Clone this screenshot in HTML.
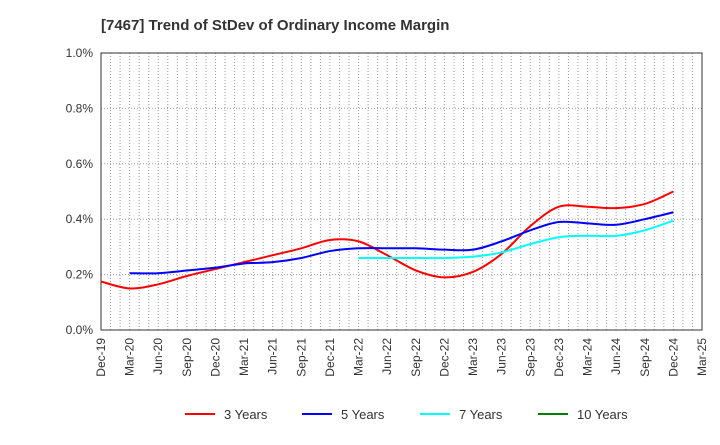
<!DOCTYPE html>
<html><head><meta charset="utf-8"><style>
body{margin:0;background:#fff;font-family:"Liberation Sans",sans-serif}
</style></head><body>
<svg width="720" height="440" xmlns="http://www.w3.org/2000/svg" font-family="Liberation Sans, sans-serif">
<text x="101" y="30" font-size="15" font-weight="bold" fill="#333">[7467]  Trend of StDev of Ordinary Income Margin</text>
<g id="grid"></g><g id="axes"></g><g id="series"></g><g id="legend"></g>
</svg>
<script>
const xLabels=["Dec-19","Mar-20","Jun-20","Sep-20","Dec-20","Mar-21","Jun-21","Sep-21","Dec-21","Mar-22","Jun-22","Sep-22","Dec-22","Mar-23","Jun-23","Sep-23","Dec-23","Mar-24","Jun-24","Sep-24","Dec-24","Mar-25"];
const yTicks=[0,0.2,0.4,0.6,0.8,1.0];
const y3=[0.175,0.15,0.165,0.195,0.22,0.245,0.27,0.295,0.325,0.32,0.27,0.215,0.19,0.21,0.275,0.375,0.445,0.445,0.44,0.455,0.5];
const y5=[null,0.205,0.205,0.215,0.225,0.24,0.245,0.26,0.285,0.295,0.295,0.295,0.29,0.29,0.32,0.36,0.39,0.385,0.38,0.40,0.425];
const y7=[null,null,null,null,null,null,null,null,null,0.26,0.26,0.26,0.26,0.265,0.28,0.31,0.335,0.34,0.34,0.36,0.395];
const y10=[];
const names=["3 Years","5 Years","7 Years","10 Years"];
const colors=["#ff0000","#0000ff","#00ffff","#008000"];
const L=101,R=702,T=53,B=330,NS="http://www.w3.org/2000/svg";
const xs=i=>L+i*(R-L)/(xLabels.length-1);
const ys=v=>B-(v/1.0)*(B-T);
function mk(tag,attrs,parent){const e=document.createElementNS(NS,tag);for(const k in attrs)e.setAttribute(k,attrs[k]);document.getElementById(parent).appendChild(e);return e;}
for(let m=1;m<(xLabels.length-1)*3;m++){const x=L+m*(R-L)/((xLabels.length-1)*3);
const g=mk('line',{x1:x,x2:x,y1:T,y2:B,stroke:'#999','stroke-dasharray':'1,2','stroke-width':1},'grid');

}
yTicks.forEach(v=>{if(v>0){const g=mk('line',{x1:L,x2:R,y1:ys(v),y2:ys(v),stroke:'#999','stroke-dasharray':'1,2'},'grid');

}
const t=mk('text',{x:L-8,y:ys(v)+4,'text-anchor':'end','font-size':12,fill:'#333'},'axes');t.textContent=v.toFixed(1)+'%';

});
const fr=mk('rect',{x:L,y:T,width:R-L,height:B-T,fill:'none',stroke:'#333'},'axes');


xLabels.forEach((s,i)=>{const x=xs(i);const t=mk('text',{transform:`translate(${x+4},${B+8}) rotate(-90)`,'text-anchor':'end','font-size':12,fill:'#333'},'axes');t.textContent=s;

});
function path(arr){const p=[];arr.forEach((v,i)=>{if(v!=null)p.push([xs(i),ys(v)]);});if(p.length<2)return'';
let d=`M${p[0][0]},${p[0][1]}`;for(let i=0;i<p.length-1;i++){const p0=p[i-1]||p[i],p1=p[i],p2=p[i+1],p3=p[i+2]||p2;
d+=` C${p1[0]+(p2[0]-p0[0])/6},${p1[1]+(p2[1]-p0[1])/6} ${p2[0]-(p3[0]-p1[0])/6},${p2[1]-(p3[1]-p1[1])/6} ${p2[0]},${p2[1]}`;}return d;}
[y3,y5,y7,y10].forEach((a,k)=>{const d=path(a);if(d){const e=mk('path',{d:d,fill:'none',stroke:colors[k],'stroke-width':2},'series');

}});
const lx=[185,302,420,538];
names.forEach((n,k)=>{const l=mk('line',{x1:lx[k],x2:lx[k]+30,y1:414,y2:414,stroke:colors[k],'stroke-width':2},'legend');


const t=mk('text',{x:lx[k]+39,y:419,'font-size':13,fill:'#333'},'legend');t.textContent=n;

});
</script>
</body></html>
